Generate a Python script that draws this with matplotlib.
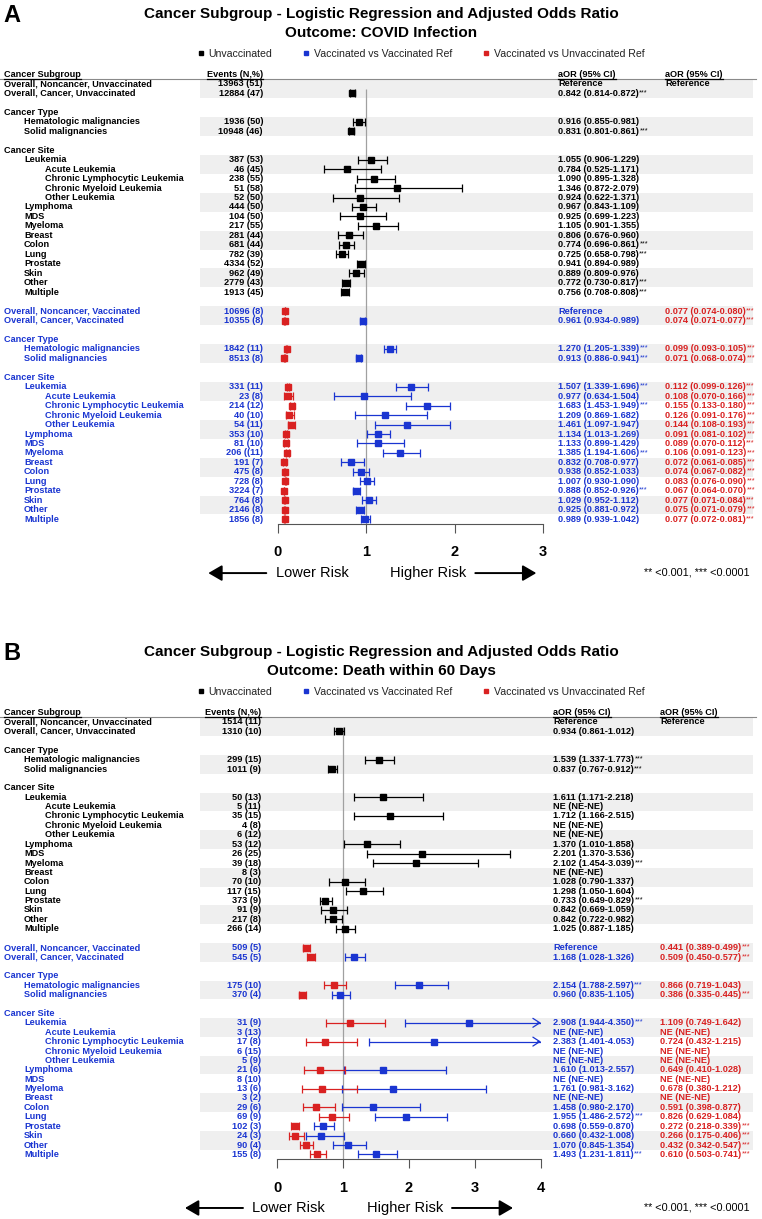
import numpy as np
import matplotlib.pyplot as plt
from matplotlib.lines import Line2D
from matplotlib.patches import Rectangle

plt.rcParams['font.family'] = ['Liberation Sans', 'DejaVu Sans']

nan = np.nan
W, H = 762, 1219
BLUE = '#1a35d1'
RED = '#d92121'
BAND = '#efefef'

subgroups = ["Overall, Noncancer", "Overall, Cancer", "Hematologic malignancies", "Solid malignancies",
             "Leukemia", "Acute Leukemia", "Chronic Lymphocytic Leukemia", "Chronic Myeloid Leukemia",
             "Other Leukemia", "Lymphoma", "MDS", "Myeloma", "Breast", "Colon", "Lung", "Prostate",
             "Skin", "Other", "Multiple"]
levels = [0, 0, 1, 1, 1, 2, 2, 2, 2, 1, 1, 1, 1, 1, 1, 1, 1, 1, 1]

# ---- panel A : COVID infection ----
a_unvax_events = ["13963 (51)", "12884 (47)", "1936 (50)", "10948 (46)", "387 (53)", "46 (45)", "238 (55)",
                  "51 (58)", "52 (50)", "444 (50)", "104 (50)", "217 (55)", "281 (44)", "681 (44)", "782 (39)",
                  "4334 (52)", "962 (49)", "2779 (43)", "1913 (45)"]
a_unvax_or = [None, 0.842, 0.916, 0.831, 1.055, 0.784, 1.090, 1.346, 0.924, 0.967, 0.925, 1.105, 0.806, 0.774,
              0.725, 0.941, 0.889, 0.772, 0.756]
a_unvax_lo = [None, 0.814, 0.855, 0.801, 0.906, 0.525, 0.895, 0.872, 0.622, 0.843, 0.699, 0.901, 0.676, 0.696,
              0.658, 0.894, 0.809, 0.730, 0.708]
a_unvax_hi = [None, 0.872, 0.981, 0.861, 1.229, 1.171, 1.328, 2.079, 1.371, 1.109, 1.223, 1.355, 0.960, 0.861,
              0.798, 0.989, 0.976, 0.817, 0.808]
a_unvax_sig = ["", "***", "", "***", "", "", "", "", "", "", "", "", "", "***", "***", "", "", "***", "***"]

a_vax_events = ["10696 (8)", "10355 (8)", "1842 (11)", "8513 (8)", "331 (11)", "23 (8)", "214 (12)", "40 (10)",
                "54 (11)", "353 (10)", "81 (10)", "206 ((11)", "191 (7)", "475 (8)", "728 (8)", "3224 (7)",
                "764 (8)", "2146 (8)", "1856 (8)"]
a_vv_or = [None, 0.961, 1.270, 0.913, 1.507, 0.977, 1.683, 1.209, 1.461, 1.134, 1.133, 1.385, 0.832, 0.938,
           1.007, 0.888, 1.029, 0.925, 0.989]
a_vv_lo = [None, 0.934, 1.205, 0.886, 1.339, 0.634, 1.453, 0.869, 1.097, 1.013, 0.899, 1.194, 0.708, 0.852,
           0.930, 0.852, 0.952, 0.881, 0.939]
a_vv_hi = [None, 0.989, 1.339, 0.941, 1.696, 1.504, 1.949, 1.682, 1.947, 1.269, 1.429, 1.606, 0.977, 1.033,
           1.090, 0.926, 1.112, 0.972, 1.042]
a_vv_sig = ["", "", "***", "***", "***", "", "***", "", "", "", "", "***", "", "", "", "***", "", "", ""]
a_vu_or = [0.077, 0.074, 0.099, 0.071, 0.112, 0.108, 0.155, 0.126, 0.144, 0.091, 0.089, 0.106, 0.072, 0.074,
           0.083, 0.067, 0.077, 0.075, 0.077]
a_vu_lo = [0.074, 0.071, 0.093, 0.068, 0.099, 0.070, 0.133, 0.091, 0.108, 0.081, 0.070, 0.091, 0.061, 0.067,
           0.076, 0.064, 0.071, 0.071, 0.072]
a_vu_hi = [0.080, 0.077, 0.105, 0.074, 0.126, 0.166, 0.180, 0.176, 0.193, 0.102, 0.112, 0.123, 0.085, 0.082,
           0.090, 0.070, 0.084, 0.079, 0.081]
a_vu_sig = ["***"] * 19

# ---- panel B : death within 60 days ----
b_unvax_events = ["1514 (11)", "1310 (10)", "299 (15)", "1011 (9)", "50 (13)", "5 (11)", "35 (15)", "4 (8)",
                  "6 (12)", "53 (12)", "26 (25)", "39 (18)", "8 (3)", "70 (10)", "117 (15)", "373 (9)",
                  "91 (9)", "217 (8)", "266 (14)"]
b_unvax_or = [None, 0.934, 1.539, 0.837, 1.611, nan, 1.712, nan, nan, 1.370, 2.201, 2.102, nan, 1.028, 1.298,
              0.733, 0.842, 0.842, 1.025]
b_unvax_lo = [None, 0.861, 1.337, 0.767, 1.171, nan, 1.166, nan, nan, 1.010, 1.370, 1.454, nan, 0.790, 1.050,
              0.649, 0.669, 0.722, 0.887]
b_unvax_hi = [None, 1.012, 1.773, 0.912, 2.218, nan, 2.515, nan, nan, 1.858, 3.536, 3.039, nan, 1.337, 1.604,
              0.829, 1.059, 0.982, 1.185]
b_unvax_sig = ["", "", "***", "***", "", "", "", "", "", "", "", "***", "", "", "", "***", "", "", ""]

b_vax_events = ["509 (5)", "545 (5)", "175 (10)", "370 (4)", "31 (9)", "3 (13)", "17 (8)", "6 (15)", "5 (9)",
                "21 (6)", "8 (10)", "13 (6)", "3 (2)", "29 (6)", "69 (9)", "102 (3)", "24 (3)", "90 (4)",
                "155 (8)"]
b_vv_or = [None, 1.168, 2.154, 0.960, 2.908, nan, 2.383, nan, nan, 1.610, nan, 1.761, nan, 1.458, 1.955, 0.698,
           0.660, 1.070, 1.493]
b_vv_lo = [None, 1.028, 1.788, 0.835, 1.944, nan, 1.401, nan, nan, 1.013, nan, 0.981, nan, 0.980, 1.486, 0.559,
           0.432, 0.845, 1.231]
b_vv_hi = [None, 1.326, 2.597, 1.105, 4.350, nan, 4.053, nan, nan, 2.557, nan, 3.162, nan, 2.170, 2.572, 0.870,
           1.008, 1.354, 1.811]
b_vv_sig = ["", "", "***", "", "***", "", "", "", "", "", "", "", "", "", "***", "", "", "", "***"]
b_vu_or = [0.441, 0.509, 0.866, 0.386, 1.109, nan, 0.724, nan, nan, 0.649, nan, 0.678, nan, 0.591, 0.826, 0.272,
           0.266, 0.432, 0.610]
b_vu_lo = [0.389, 0.450, 0.719, 0.335, 0.749, nan, 0.432, nan, nan, 0.410, nan, 0.380, nan, 0.398, 0.629, 0.218,
           0.175, 0.342, 0.503]
b_vu_hi = [0.499, 0.577, 1.043, 0.445, 1.642, nan, 1.215, nan, nan, 1.028, nan, 1.212, nan, 0.877, 1.084, 0.339,
           0.406, 0.547, 0.741]
b_vu_sig = ["***", "***", "", "***", "", "", "", "", "", "", "", "", "", "", "", "***", "***", "***", "***"]

item_rows = [0, 1, 4, 5] + list(range(8, 23))
head_rows = {3: "Cancer Type", 7: "Cancer Site"}
indent = [4, 24, 45]
FS = 6.6

fig = plt.figure(figsize=(W / 100, H / 100), dpi=100)
star_jobs = []
underline_jobs = []


def fx(px):
    return px / W


def fy(py):
    return 1 - py / H


def ci_text(o, l, h):
    if o is None:
        return "Reference"
    if np.isnan(o):
        return "NE (NE-NE)"
    return f"{o:.3f} ({l:.3f}-{h:.3f})"


def put(ax, x, y, s, color, ha='left', stars=''):
    t = ax.text(x, y, s, ha=ha, va='center', fontsize=FS, fontweight='bold', color=color)
    if stars:
        star_jobs.append((t, stars, color))
    return t


def draw_ci(ax, y, o, l, h, color, xmax):
    if o is None or np.isnan(o):
        return
    top = min(h, xmax)
    ax.hlines(y, l, top, color=color, lw=0.9, zorder=3)
    ax.plot([l], [y], marker='|', ms=5.5, mew=0.9, color=color, zorder=3)
    if h > xmax:
        ax.annotate('', xy=(xmax, y), xytext=(xmax - 0.05, y), annotation_clip=False,
                    arrowprops=dict(arrowstyle='->,head_length=0.5,head_width=0.32', color=color,
                                    lw=0.9, mutation_scale=10, shrinkA=0, shrinkB=0))
    else:
        ax.plot([h], [y], marker='|', ms=5.5, mew=0.9, color=color, zorder=3)
    ax.plot([o], [y], marker='s', ms=3.9, color=color, zorder=4, clip_on=False)


def panel(letter, outcome, row0, rh, x0, scale, xmax, ev_x, c1_x, c2_x, unvax, vax, vs_unvax):
    top = row0 - 0.5 * rh
    bot = row0 + 46.5 * rh
    tab = fig.add_axes([0, fy(bot), 1, (bot - top) / H])
    tab.set_xlim(0, W)
    tab.set_ylim(46.5, -0.5)
    tab.axis('off')
    fr = fig.add_axes([fx(x0), fy(bot), scale * xmax / W, (bot - top) / H])
    fr.patch.set_visible(False)
    fr.set_xlim(0, xmax)
    fr.set_ylim(46.5, -0.5)

    # titles and legend
    fig.text(fx(3), fy(row0 - 69), letter, fontsize=17, fontweight='bold', va='center')
    fig.text(0.5, fy(row0 - 70), "Cancer Subgroup - Logistic Regression and Adjusted Odds Ratio",
             ha='center', va='center', fontsize=11, fontweight='bold')
    fig.text(0.5, fy(row0 - 51), "Outcome: " + outcome, ha='center', va='center', fontsize=11,
             fontweight='bold')
    handles = [Line2D([], [], ls='', marker='s', ms=3.5, color=c) for c in ('black', BLUE, RED)]
    fig.legend(handles, ["Unvaccinated", "Vaccinated vs Vaccinated Ref", "Vaccinated vs Unvaccinated Ref"],
               loc='center', bbox_to_anchor=(fx(421), fy(row0 - 30)), ncol=3, frameon=False, fontsize=7.6,
               handlelength=0.6, handletextpad=0.45, columnspacing=2.9, labelcolor='#222222')

    # header
    hy = -1.05
    for t in (put(tab, indent[0], hy, "Cancer Subgroup", 'black'),
              put(tab, ev_x, hy, "Events (N,%)", 'black', ha='right'),
              put(tab, c1_x, hy, "aOR (95% CI)", 'black'),
              put(tab, c2_x, hy, "aOR (95% CI)", 'black')):
        underline_jobs.append((t, tab))
    tab.plot([0, 756], [-0.5, -0.5], color='#8a8a8a', lw=0.8, clip_on=False)

    for off, suffix, color, (ev, o, l, h, sig) in ((0, "Unvaccinated", 'black', unvax),
                                                   (24, "Vaccinated", BLUE, vax)):
        for s in (0, 4, 8, 12, 16, 20):
            tab.add_patch(Rectangle((200, off + s - 0.5), 553, 2, color=BAND, lw=0, zorder=0))
        for r, name in head_rows.items():
            put(tab, indent[0], off + r, name, color)
        for i, r in enumerate(item_rows):
            y = off + r
            name = subgroups[i] + ", " + suffix if i < 2 else subgroups[i]
            put(tab, indent[levels[i]], y, name, color)
            put(tab, ev_x, y, ev[i], color, ha='right')
            put(tab, c1_x, y, ci_text(o[i], l[i], h[i]), color, stars=sig[i])
            draw_ci(fr, y, o[i], l[i], h[i], color, xmax)
        if off == 0:
            put(tab, c2_x, 0, "Reference", 'black')

    o, l, h, sig = vs_unvax
    for i, r in enumerate(item_rows):
        y = 24 + r
        put(tab, c2_x, y, ci_text(o[i], l[i], h[i]), RED, stars=sig[i])
        draw_ci(fr, y, o[i], l[i], h[i], RED, xmax)

    # reference line and axis
    fr.vlines(1, 0.5, 46.5, color='#a0a0a0', lw=0.9, zorder=1)
    for sp in ('top', 'left', 'right'):
        fr.spines[sp].set_visible(False)
    fr.spines['bottom'].set_color('#555555')
    fr.spines['bottom'].set_linewidth(0.8)
    fr.set_yticks([])
    fr.set_xticks(np.arange(xmax + 1))
    fr.tick_params(axis='x', direction='out', length=6.5, width=0.8, color='#555555', pad=9, labelsize=10.5)
    for lab in fr.get_xticklabels():
        lab.set_fontweight('bold')

    # risk arrows and footnote
    x1 = x0 + scale
    ry = 51.7
    tab.text(x1 - 18, ry, "Lower Risk", ha='right', va='center', fontsize=10.5)
    tab.text(x1 + 24, ry, "Higher Risk", ha='left', va='center', fontsize=10.5)
    for tail, head in ((x1 - 100, x1 - 158), (x1 + 109, x1 + 170)):
        tab.annotate('', xy=(head, ry), xytext=(tail, ry), annotation_clip=False,
                     arrowprops=dict(arrowstyle='-|>,head_length=0.55,head_width=0.32', color='black',
                                     lw=1.4, mutation_scale=15, shrinkA=0, shrinkB=0))
    tab.text(750, ry - 0.1, "** <0.001, *** <0.0001", ha='right', va='center', fontsize=7.8)


panel("A", "COVID Infection", 84, 9.46, 278, 88.3, 3, 263, 558, 665,
      (a_unvax_events, a_unvax_or, a_unvax_lo, a_unvax_hi, a_unvax_sig),
      (a_vax_events, a_vv_or, a_vv_lo, a_vv_hi, a_vv_sig),
      (a_vu_or, a_vu_lo, a_vu_hi, a_vu_sig))
panel("B", "Death within 60 Days", 722, 9.4, 277, 66.0, 4, 261, 553, 660,
      (b_unvax_events, b_unvax_or, b_unvax_lo, b_unvax_hi, b_unvax_sig),
      (b_vax_events, b_vv_or, b_vv_lo, b_vv_hi, b_vv_sig),
      (b_vu_or, b_vu_lo, b_vu_hi, b_vu_sig))

# superscript stars and header underlines need text extents
fig.canvas.draw()
renderer = fig.canvas.get_renderer()
for t, stars, color in star_jobs:
    bb = t.get_window_extent(renderer)
    fig.text((bb.x1 + 0.5) / W, (bb.y1 - 0.5) / H, stars, ha='left', va='top', fontsize=5.2, color=color)
for t, ax in underline_jobs:
    bb = t.get_window_extent(renderer)
    yl = ax.transData.transform((0, -0.5))[1] / H
    fig.add_artist(Line2D([bb.x0 / W, bb.x1 / W], [yl, yl], color='black', lw=0.9))

fig.savefig('out.png', dpi=100)
